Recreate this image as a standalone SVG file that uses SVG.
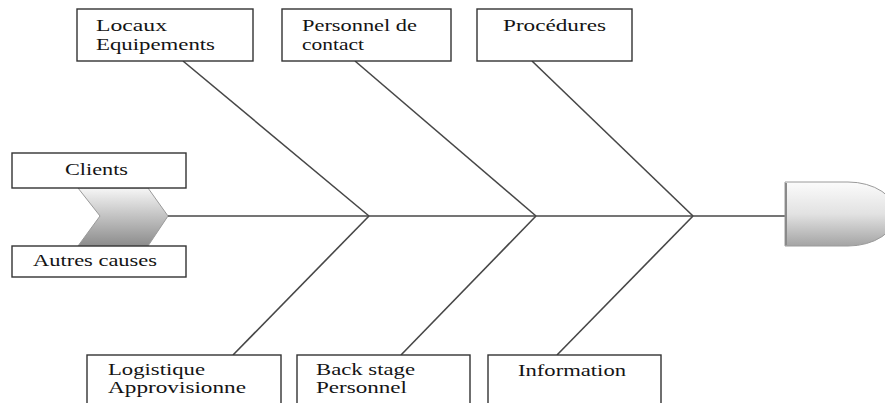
<svg xmlns="http://www.w3.org/2000/svg" width="885" height="403" viewBox="0 0 885 403">
  <defs>
    <linearGradient id="gradChevron" x1="0" y1="0" x2="0" y2="1">
      <stop offset="0" stop-color="#f6f6f6"/>
      <stop offset="1" stop-color="#8c8c8c"/>
    </linearGradient>
    <linearGradient id="gradHead" x1="0" y1="0" x2="0" y2="1">
      <stop offset="0" stop-color="#fbfbfb"/>
      <stop offset="0.5" stop-color="#e2e2e2"/>
      <stop offset="1" stop-color="#a4a4a4"/>
    </linearGradient>
    <style>
      .box { fill: #ffffff; stroke: #333333; stroke-width: 1.4; }
      .bone { stroke: #474747; stroke-width: 1.6; fill: none; }
      text { font-family: 'Liberation Serif', 'Times New Roman', 'DejaVu Serif', serif; font-size: 17px; fill: #141414; }
    </style>
  </defs>

  <rect width="885" height="403" fill="#ffffff"/>

  <!-- tail of the fish -->
  <g id="tail">
    <path d="M78,188 H148 L168,216 L148,246 H78 L100,216 Z" fill="url(#gradChevron)" stroke="#9a9a9a" stroke-width="1"/>
  </g>

  <!-- spine and bones -->
  <g id="connectors">
    <line class="bone" x1="168" y1="216" x2="785" y2="216"/>
    <line class="bone" x1="183" y1="61" x2="369" y2="216"/>
    <line class="bone" x1="355" y1="61" x2="536" y2="216"/>
    <line class="bone" x1="532" y1="61" x2="693" y2="216"/>
    <line class="bone" x1="369" y1="216" x2="233" y2="355"/>
    <line class="bone" x1="536" y1="216" x2="401" y2="355"/>
    <line class="bone" x1="693" y1="216" x2="557" y2="355"/>
  </g>

  <!-- head of the fish -->
  <g id="head">
    <path d="M785,182 H848 A48,32 0 0 1 848,246 H785 Z" fill="url(#gradHead)" stroke="#9a9a9a" stroke-width="1"/>
    <line x1="786" y1="183" x2="786" y2="245" stroke="#8a8a8a" stroke-width="2"/>
  </g>

  <g id="node-locaux">
    <rect class="box" x="77" y="9" width="176" height="52"/>
    <text x="96" y="31" textLength="71" lengthAdjust="spacingAndGlyphs">Locaux</text>
    <text x="96" y="50" textLength="119" lengthAdjust="spacingAndGlyphs">Equipements</text>
  </g>

  <g id="node-personnel-contact">
    <rect class="box" x="282" y="9" width="169" height="52"/>
    <text x="302" y="31" textLength="115" lengthAdjust="spacingAndGlyphs">Personnel de</text>
    <text x="302" y="50" textLength="62" lengthAdjust="spacingAndGlyphs">contact</text>
  </g>

  <g id="node-procedures">
    <rect class="box" x="477" y="9" width="155" height="52"/>
    <text x="503" y="31" textLength="103" lengthAdjust="spacingAndGlyphs">Procédures</text>
  </g>

  <g id="node-clients">
    <rect class="box" x="12" y="153" width="174" height="35"/>
    <text x="65" y="175" textLength="63" lengthAdjust="spacingAndGlyphs">Clients</text>
  </g>

  <g id="node-autres-causes">
    <rect class="box" x="12" y="246" width="174" height="31"/>
    <text x="33" y="266" textLength="124" lengthAdjust="spacingAndGlyphs">Autres causes</text>
  </g>

  <g id="node-logistique">
    <rect class="box" x="87" y="355" width="194" height="60"/>
    <text x="108" y="375" textLength="97" lengthAdjust="spacingAndGlyphs">Logistique</text>
    <text x="108" y="393" textLength="138" lengthAdjust="spacingAndGlyphs">Approvisionne</text>
  </g>

  <g id="node-back-stage">
    <rect class="box" x="297" y="355" width="173" height="60"/>
    <text x="316" y="375" textLength="99" lengthAdjust="spacingAndGlyphs">Back stage</text>
    <text x="316" y="393" textLength="91" lengthAdjust="spacingAndGlyphs">Personnel</text>
  </g>

  <g id="node-information">
    <rect class="box" x="488" y="355" width="173" height="60"/>
    <text x="518" y="376" textLength="108" lengthAdjust="spacingAndGlyphs">Information</text>
  </g>
</svg>
